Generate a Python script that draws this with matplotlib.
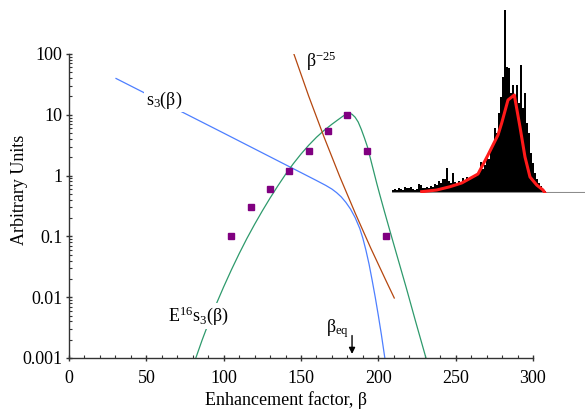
import numpy as np
import matplotlib
matplotlib.use("Agg")
import matplotlib.pyplot as plt
from matplotlib.ticker import FixedLocator, MultipleLocator, LogLocator, NullFormatter

plt.rcParams['font.family'] = ['Liberation Serif', 'DejaVu Serif']
plt.rcParams['mathtext.default'] = 'regular'

# s3(beta) curve (blue)
s3_beta = [30.4, 100, 150, 160, 166, 170, 173, 176, 179, 182, 185, 188,
           190, 192, 194, 196, 198, 200, 202, 204.2]
s3_val = [39.6, 5.0, 1.12, 0.83, 0.69, 0.60, 0.525, 0.447, 0.363, 0.282, 0.204, 0.135,
          0.093, 0.059, 0.035, 0.019, 0.010, 0.0050, 0.0024, 0.001]

# E^16 s3(beta) curve (green)
e16_beta = [82, 86, 90, 95, 100, 105, 110, 115, 120, 125, 130, 135, 140, 145,
            150, 155, 160, 165, 170, 174, 177, 179, 181, 183, 185, 187, 189,
            191, 193, 195, 197, 199, 201, 204, 207.5, 212, 218, 224, 230.8]
e16_val = [0.001, 0.00195, 0.00363, 0.0075, 0.0148, 0.0282, 0.0519, 0.0923, 0.158, 0.263,
           0.427, 0.676, 1.047, 1.567, 2.265, 3.16, 4.27, 5.56, 7.0, 8.32, 9.44, 10.2,
           10.7, 10.2, 9.12, 7.59, 5.75, 4.17, 2.95, 1.86, 1.175, 0.741, 0.479, 0.254,
           0.123, 0.049, 0.01445, 0.00407, 0.001]

# beta^-25 line (brown)
pw_beta = [145.5, 155, 165, 175, 185, 195, 205, 210.3]
pw_val = [98.5, 20.2, 4.24, 0.97, 0.243, 0.065, 0.0186, 0.0097]

# measured points (purple squares)
pts_beta = [105, 117.5, 130, 142.5, 155, 167.5, 180, 192.5, 205]
pts_val = [0.1, 0.3, 0.6, 1.2, 2.5, 5.5, 10, 2.5, 0.1]

x_ticks = [0, 50, 100, 150, 200, 250, 300]
y_ticks = [0.001, 0.01, 0.1, 1, 10, 100]
y_ticklabels = ['0.001', '0.01', '0.1', '1', '10', '100']

# inset histogram (arbitrary units)
hist_heights = [3, 4, 3, 5, 4, 3, 6, 5, 5, 6, 4, 3, 4, 9, 8, 5, 5, 6, 5, 7,
                6, 9, 8, 12, 10, 14, 14, 25, 12, 10, 20, 11, 9, 12, 10, 15, 12, 16, 14, 15,
                17, 16, 18, 20, 31, 24, 28, 36, 34, 43, 48, 65, 60, 80, 96, 116, 183, 126, 125, 100,
                108, 95, 108, 90, 128, 85, 100, 70, 60, 40, 30, 20, 14, 10, 7, 4, 2]
fit_x = [14.85, 22.35, 29.0, 34.85, 43.0, 48.0, 53.0, 54.85, 58.0, 61.15,
         64.0, 66.5, 69.0, 72.35, 75.5, 76.5]
fit_y = [1.3, 3.0, 6.3, 10.0, 19.0, 38.0, 58.0, 70.0, 93.0, 98.0,
         66.0, 36.0, 16.0, 8.0, 3.0, 0.0]

fig = plt.figure(figsize=(5.85, 4.11), dpi=100)
ax = fig.add_axes([69/585, 53/411, 464/585, 304/411])

ax.plot(s3_beta, s3_val, color='#4d7fff', lw=0.9)
ax.plot(e16_beta, e16_val, color='#2e9a6c', lw=0.9)
ax.plot(pw_beta, pw_val, color='#b5470f', lw=0.9)
ax.plot(pts_beta, pts_val, 's', color='#800080', ms=4.6, mec='#800080')

ax.set_yscale('log')
ax.set_xlim(0, 300)
ax.set_ylim(0.001, 100)
ax.xaxis.set_major_locator(FixedLocator(x_ticks))
ax.xaxis.set_minor_locator(MultipleLocator(10))
ax.set_xticklabels([str(t) for t in x_ticks])
ax.yaxis.set_major_locator(FixedLocator(y_ticks))
ax.set_yticklabels(y_ticklabels)
ax.yaxis.set_minor_locator(LogLocator(base=10, subs=np.arange(2, 10)))
ax.yaxis.set_minor_formatter(NullFormatter())
ax.spines['top'].set_visible(False)
ax.spines['right'].set_visible(False)
for s in ('left', 'bottom'):
    ax.spines[s].set_linewidth(1.0)
    ax.spines[s].set_color('#333333')
ax.tick_params(which='major', direction='inout', length=5, width=1.0, labelsize=13, color='#333333')
ax.tick_params(which='minor', direction='in', length=2.5, width=0.8, color='#333333')
ax.tick_params(axis='y', which='major', pad=2)
ax.tick_params(axis='x', which='major', pad=6)

# curve labels
wb = dict(facecolor='white', edgecolor='none', pad=1)
ax.text(61.4, 17.2, 's$_3$(β)', fontsize=13, ha='center', va='center', bbox=wb)
ax.text(163, 75, 'β$^{-25}$', fontsize=13, ha='center', va='center')
ax.text(83.4, 0.0049, 'E$^{16}$s$_3$(β)', fontsize=13, ha='center', va='center', bbox=wb)
ax.text(173.3, 0.0031, 'β$_{eq}$', fontsize=13, ha='center', va='center')
ax.annotate('', xy=(183, 0.00105), xytext=(183, 0.0026),
            arrowprops=dict(arrowstyle='-|>', color='black', lw=1.0, mutation_scale=9))

fig.text(286/585, 1 - 400/411, 'Enhancement factor, β', fontsize=13, ha='center', va='center')
fig.text(20/585, 1 - 190/411, 'Arbitrary Units', fontsize=13, ha='center', va='center', rotation=90)

# inset histogram
ax_in = fig.add_axes([392/585, (411-193)/411, 193/585, 188/411])
ax_in.bar(np.arange(len(hist_heights)) + 0.5, hist_heights, width=1.0,
          color='black', edgecolor='none')
ax_in.axhline(0, color='#8c8c8c', lw=1.5)
ax_in.plot(fit_x, fit_y, color='#ff1a1a', lw=2.2)
ax_in.set_xlim(0, 96.5)
ax_in.set_ylim(0, 188)
ax_in.axis('off')

fig.savefig('out.png', dpi=100)
